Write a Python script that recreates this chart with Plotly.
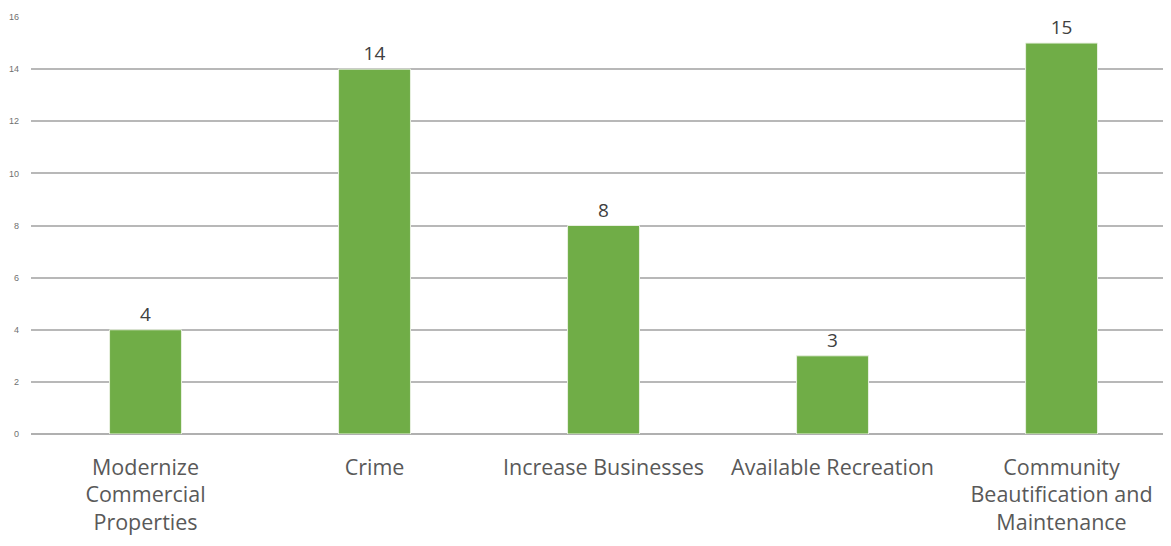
import plotly.graph_objects as go

categories = ["Modernize<br>Commercial<br>Properties", "Crime", "Increase Businesses",
              "Available Recreation", "Community<br>Beautification and<br>Maintenance"]
values = [4, 14, 8, 3, 15]
y_ticks = [0, 2, 4, 6, 8, 10, 12, 14, 16]

fig = go.Figure()
fig.add_trace(go.Bar(
    x=categories, y=values,
    marker=dict(color="#70AD47", line=dict(color="#e8f0e0", width=1)),
    text=[str(v) for v in values], textposition="outside",
    textfont=dict(size=19, color="#404040", family="Open Sans"),
    cliponaxis=False,
))

fig.update_layout(
    width=1163, height=530,
    margin=dict(l=23, r=0, t=9, b=104),
    plot_bgcolor="white", paper_bgcolor="white",
    bargap=0.686,
    showlegend=False,
    font=dict(family="Open Sans", color="#595959"),
)
fig.update_xaxes(
    range=[-0.5, 4.478], showgrid=False, showline=False, ticks="",
    tickfont=dict(size=21.5, color="#595959", family="Open Sans"),
    automargin=False, ticklabelstandoff=18,
)
fig.update_yaxes(
    range=[0, 16], tickvals=y_ticks, showgrid=True, gridcolor="#b8b8b8", gridwidth=1.5,
    zeroline=True, zerolinecolor="#b0b0b0", zerolinewidth=1.5,
    tickfont=dict(size=9, color="#707070", family="Liberation Sans"),
    ticks="", ticklabelstandoff=11, automargin=False,
)

fig.write_html("out.html")
